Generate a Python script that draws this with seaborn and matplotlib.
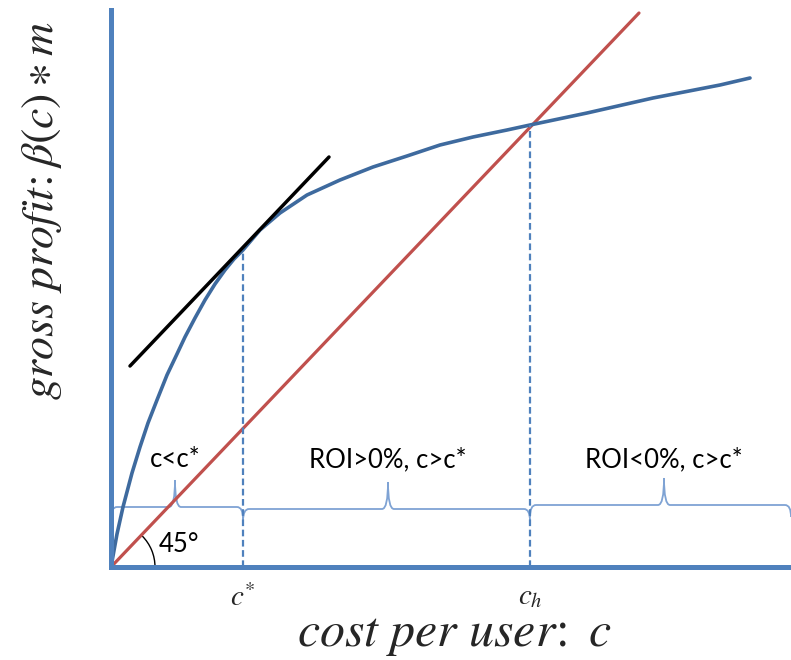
import numpy as np
import seaborn as sns
import matplotlib.pyplot as plt
from matplotlib.patches import Arc, PathPatch
from matplotlib.path import Path

# values, origin at the axes corner
cost = [0, 6, 12, 21, 29, 37, 46, 56, 66, 74, 84, 94, 104, 114, 123, 132, 149, 169,
        196, 229, 262, 296, 329, 362, 396, 419, 476, 542, 609, 639]
gross_profit = [0, 33, 60, 94, 120, 144, 167, 192, 213, 230, 249, 267, 283, 297, 308, 317, 337, 354,
                372, 387, 400, 411, 422, 430, 437, 442, 454, 469, 482, 489]

breakeven_x = [0, 528]
breakeven_y = [0, 554]

tangent_x = [19, 218]
tangent_y = [201, 410]

c_star, c_h = 132, 419
marker_x = [c_star, c_h]
marker_top = [317, 442]
marker_labels = [r"$c^{*}$", r"$c_{h}$"]

region_edges = [0, c_star, c_h, 680]
region_tips = [64, 277, 553]
brace_levels = [60, 58, 62]
region_labels = ["c<c*", "ROI>0%, c>c*", "ROI<0%, c>c*"]

sns.set_theme(style="white")
plt.rcParams['mathtext.fontset'] = 'stix'
plt.rcParams['font.family'] = ['Lato', 'DejaVu Sans']

axis_blue = '#4F81BD'
curve_blue = '#3E6A9E'
red = '#C0504D'

fig = plt.figure(figsize=(7.91, 6.6), dpi=100)
ax = fig.add_axes([111 / 791, 93 / 660, 680 / 791, 557 / 660])

sns.lineplot(x=breakeven_x, y=breakeven_y, ax=ax, color=red, linewidth=2.3, clip_on=False)
sns.lineplot(x=cost, y=gross_profit, ax=ax, color=curve_blue, linewidth=2.6, clip_on=False)
sns.lineplot(x=tangent_x, y=tangent_y, ax=ax, color='black', linewidth=2.5)

ax.vlines(marker_x, 0, marker_top, colors=axis_blue, linestyles=(0, (3, 1.6)), linewidth=1.6)

# curly braces under the region labels
r, h_end, h_tip = 6, 12, 27
for i in range(3):
    a, b = region_edges[i], region_edges[i + 1]
    t, y0 = region_tips[i], brace_levels[i]
    verts = [(a, y0 - h_end), (a, y0), (a + r, y0),
             (t - r, y0), (t, y0), (t, y0 + h_tip),
             (t, y0), (t + r, y0),
             (b - r, y0), (b, y0), (b, y0 - h_end)]
    codes = [Path.MOVETO, Path.CURVE3, Path.CURVE3,
             Path.LINETO, Path.CURVE3, Path.CURVE3,
             Path.CURVE3, Path.CURVE3,
             Path.LINETO, Path.CURVE3, Path.CURVE3]
    ax.add_patch(PathPatch(Path(verts, codes), fill=False, edgecolor='#7FA3D4',
                           linewidth=1.3, clip_on=False))
    ax.text(t, 100, region_labels[i], ha='center', va='baseline', fontsize=18.5, color='black')

# 45 degree marker
ax.add_patch(Arc((0, 0), 88, 88, theta1=0, theta2=45, color='black', linewidth=1.0))
ax.text(48, 15, "45°", ha='left', va='baseline', fontsize=18.5, color='black')

ax.set_xlim(0, 680)
ax.set_ylim(0, 557)
ax.set_xticks(marker_x)
ax.set_xticklabels(marker_labels, fontsize=21)
ax.set_yticks([])
ax.tick_params(axis='x', length=0, pad=12)
sns.despine(ax=ax)
for side in ['left', 'bottom']:
    ax.spines[side].set_color(axis_blue)
    ax.spines[side].set_linewidth(3.6)

fig.text(455 / 791, 14 / 660, r"$cost\ per\ user\!:\ c$", ha='center', va='baseline', fontsize=36)
fig.text(42 / 791, 1 - 211 / 660, r"$gross\ profit\!:\beta(c)\ast m$", ha='center', va='center',
         rotation=90, fontsize=33)

fig.savefig("out.png", dpi=100)
